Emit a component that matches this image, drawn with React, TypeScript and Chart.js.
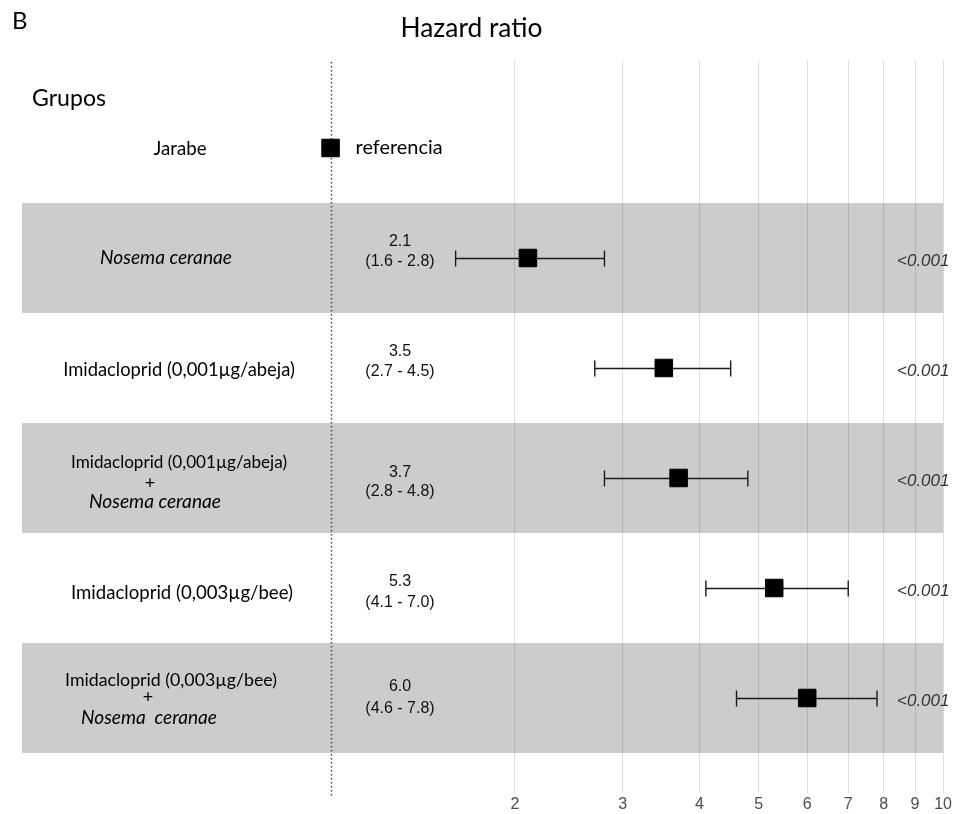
import React, { useEffect, useRef } from 'react';
import { Chart, registerables } from 'chart.js';

Chart.register(...registerables);

// Treatment groups (one entry per row, each line of a row label as its own string)
const groupLines: string[][] = [
  ['Jarabe'],
  ['Nosema ceranae'],
  ['Imidacloprid (0,001µg/abeja)'],
  ['Imidacloprid (0,001µg/abeja)', '+', 'Nosema ceranae'],
  ['Imidacloprid (0,003µg/bee)'],
  ['Imidacloprid (0,003µg/bee)', '+', 'Nosema  ceranae'],
];

// Hazard ratios with 95% confidence limits (row 0 is the reference group)
const hazardRatio = [1, 2.1, 3.5, 3.7, 5.3, 6.0];
const ciLower: (number | null)[] = [null, 1.6, 2.7, 2.8, 4.1, 4.6];
const ciUpper: (number | null)[] = [null, 2.8, 4.5, 4.8, 7.0, 7.8];
const pValues = ['', '<0.001', '<0.001', '<0.001', '<0.001', '<0.001'];

const xTicks = [2, 3, 4, 5, 6, 7, 8, 9, 10];
const referenceLabel = 'referencia';
const speciesName = 'Nosema ceranae';

const LABEL_FONT = 'Lato, "Noto Sans", sans-serif';
const NUM_FONT = '"Liberation Sans", Arial, sans-serif';

// Row geometry
const firstRowY = 148;
const rowPitch = 110;

// Layout of the text columns
const labelCenterX: number[][] = [[180], [166], [179], [179, 150, 155], [182], [171, 148, 149]];
const labelWidth: number[][] = [[53], [132], [232], [216, 0, 132], [222], [212, 0, 136]];
const labelLineDy: number[][] = [[1], [0], [2], [-16, 5, 24], [5], [-18, -1, 20]];
const statCenterX = 400;
const statLineDy: number[][] = [[0], [-16, 4], [-16, 4], [-5, 14], [-6, 15], [-11, 11]];
const pValueX = 897;

// pick a font size so that the text spans the requested width
function fitFont(ctx: CanvasRenderingContext2D, text: string, italic: boolean, width: number) {
  const base = 20;
  const style = italic ? 'italic ' : '';
  ctx.font = `${style}${base}px ${LABEL_FONT}`;
  const w = ctx.measureText(text).width || 1;
  const size = (base * width) / w;
  ctx.font = `${style}${size.toFixed(2)}px ${LABEL_FONT}`;
}

const forestPlugin = {
  id: 'forestDecor',
  afterLayout(chart: any) {
    const y = chart.scales.y;
    const { top, bottom } = chart.chartArea;
    const min = -(firstRowY - top) / rowPitch;
    y.min = min;
    y.max = min + (bottom - top) / rowPitch;
    y.configure();
  },
  beforeDraw(chart: any) {
    const { ctx, chartArea, scales } = chart;
    const y = scales.y;
    ctx.save();
    ctx.fillStyle = '#cccccc';
    groupLines.forEach((_, i) => {
      if (i % 2 === 1) {
        const top = y.getPixelForValue(i - 0.5);
        const bottom = y.getPixelForValue(i + 0.5);
        ctx.fillRect(chartArea.left, top, chartArea.right - chartArea.left, bottom - top);
      }
    });
    ctx.restore();
  },
  beforeDatasetsDraw(chart: any) {
    const { ctx, chartArea, scales } = chart;
    const x = scales.x;
    const y = scales.y;
    ctx.save();
    // no-effect line at HR = 1
    const x1 = Math.round(x.getPixelForValue(1)) + 0.5;
    ctx.strokeStyle = '#444';
    ctx.lineWidth = 1.5;
    ctx.setLineDash([1.5, 2.5]);
    ctx.beginPath();
    ctx.moveTo(x1, chartArea.top + 2);
    ctx.lineTo(x1, chartArea.bottom + 15);
    ctx.stroke();
    ctx.setLineDash([]);

    // confidence interval whiskers
    ctx.strokeStyle = '#1a1a1a';
    ctx.lineWidth = 1.4;
    hazardRatio.forEach((_, i) => {
      const lo = ciLower[i];
      const hi = ciUpper[i];
      if (lo == null || hi == null) return;
      const py = Math.round(y.getPixelForValue(i)) + 0.5;
      const xl = x.getPixelForValue(lo);
      const xu = x.getPixelForValue(hi);
      ctx.beginPath();
      ctx.moveTo(xl, py);
      ctx.lineTo(xu, py);
      ctx.moveTo(xl, py - 8);
      ctx.lineTo(xl, py + 8);
      ctx.moveTo(xu, py - 8);
      ctx.lineTo(xu, py + 8);
      ctx.stroke();
    });
    ctx.restore();
  },
  afterDraw(chart: any) {
    const { ctx, scales } = chart;
    const x = scales.x;
    const y = scales.y;
    ctx.save();
    ctx.fillStyle = '#000';
    ctx.textBaseline = 'alphabetic';
    ctx.textAlign = 'left';
    ctx.font = `24px ${LABEL_FONT}`;
    ctx.fillText('B', 12, 29);
    ctx.textAlign = 'center';
    fitFont(ctx, 'Hazard ratio', false, 142);
    ctx.fillText('Hazard ratio', 471.5, 37);
    ctx.textAlign = 'left';
    fitFont(ctx, 'Grupos', false, 74);
    ctx.fillText('Grupos', 32, 106);

    // group labels
    ctx.textBaseline = 'middle';
    ctx.textAlign = 'center';
    groupLines.forEach((lines, i) => {
      const cy = y.getPixelForValue(i);
      lines.forEach((line, j) => {
        const italic = line.replace(/\s+/g, ' ') === speciesName;
        if (line === '+') ctx.font = `18px ${LABEL_FONT}`;
        else fitFont(ctx, line, italic, labelWidth[i][j]);
        ctx.fillText(line, labelCenterX[i][j], cy + labelLineDy[i][j]);
      });
    });

    // hazard ratio text column
    hazardRatio.forEach((hr, i) => {
      const cy = y.getPixelForValue(i);
      const lo = ciLower[i];
      const hi = ciUpper[i];
      if (lo == null || hi == null) {
        ctx.textAlign = 'left';
        fitFont(ctx, referenceLabel, false, 87);
        ctx.fillStyle = '#000';
        ctx.fillText(referenceLabel, x.getPixelForValue(hr) + 25, cy + statLineDy[i][0]);
        return;
      }
      ctx.textAlign = 'center';
      ctx.font = `16px ${NUM_FONT}`;
      ctx.fillStyle = '#111';
      ctx.fillText(hr.toFixed(1), statCenterX, cy + statLineDy[i][0]);
      ctx.fillText(`(${lo.toFixed(1)} - ${hi.toFixed(1)})`, statCenterX, cy + statLineDy[i][1]);
    });

    // p-values
    ctx.textAlign = 'left';
    ctx.font = `italic 17px ${NUM_FONT}`;
    ctx.fillStyle = '#333';
    pValues.forEach((p, i) => {
      if (!p) return;
      ctx.fillText(p, pValueX, y.getPixelForValue(i) + 3);
    });
    ctx.restore();
  },
};

export default function App() {
  const canvasRef = useRef<HTMLCanvasElement | null>(null);

  useEffect(() => {
    const canvas = canvasRef.current;
    if (!canvas) return;
    const chart = new Chart(canvas, {
      type: 'scatter',
      data: {
        datasets: [
          {
            data: hazardRatio.map((v, i) => ({ x: v, y: i })),
            pointStyle: 'rect',
            pointRadius: 12.4,
            pointHoverRadius: 12.4,
            backgroundColor: '#000',
            borderColor: '#000',
            borderWidth: 1,
          },
        ],
      },
      options: {
        responsive: false,
        animation: false,
        events: [],
        layout: { autoPadding: false, padding: { left: 22, right: 9, top: 60, bottom: 0 } },
        plugins: { legend: { display: false }, tooltip: { enabled: false } },
        scales: {
          x: {
            type: 'logarithmic',
            min: 0.3135,
            max: 10,
            bounds: 'data',
            afterBuildTicks: (scale: any) => {
              scale.ticks = xTicks.map((v) => ({ value: v }));
            },
            afterFit: (scale: any) => {
              scale.height = 32;
            },
            ticks: {
              callback: (v: any) => String(v),
              color: '#4d4d4d',
              font: { family: NUM_FONT, size: 16, lineHeight: 1 },
              padding: 4,
              autoSkip: false,
              maxRotation: 0,
            },
            grid: { color: 'rgba(0,0,0,0.12)', lineWidth: 1, tickLength: 11 },
            border: { display: false },
          },
          y: {
            type: 'linear',
            reverse: true,
            min: -0.8,
            max: 5.76,
            display: false,
          },
        },
      },
      plugins: [forestPlugin],
    });
    return () => chart.destroy();
  }, []);

  return (
    <div style={{ position: 'absolute', left: 0, top: 0, width: 956, height: 814, background: '#fff' }}>
      <canvas ref={canvasRef} width={956} height={814} style={{ display: 'block' }} />
    </div>
  );
}
